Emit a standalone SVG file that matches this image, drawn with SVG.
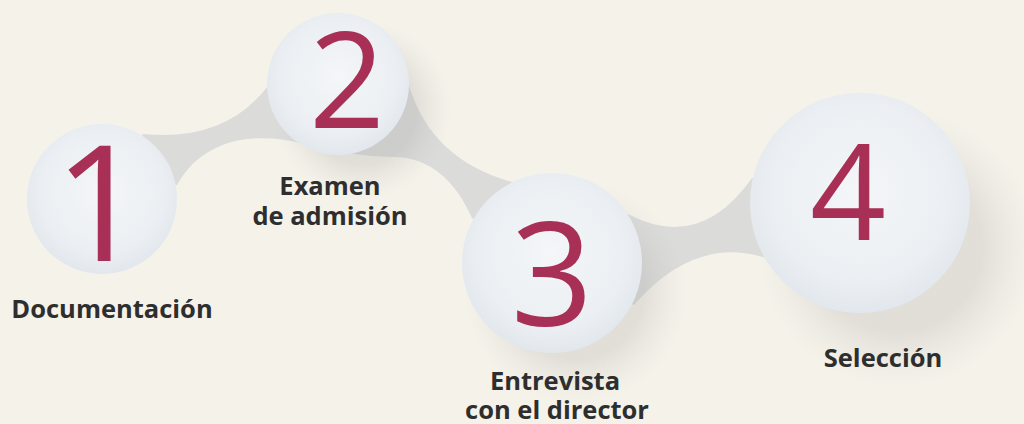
<svg xmlns="http://www.w3.org/2000/svg" width="1024" height="424" viewBox="0 0 1024 424">
<defs>
<style>
.num{font-family:"Open Sans","Noto Sans",sans-serif;font-weight:400;fill:#a82f55;text-anchor:middle}
.lbl{font-family:"Open Sans","Noto Sans",sans-serif;font-weight:700;font-size:25.5px;fill:#2e2e2e;text-anchor:middle}
.ball{fill:url(#ballGrad)}
</style>
<radialGradient id="ballGrad" cx="0.5" cy="0.45" r="0.55">
<stop offset="0" stop-color="#f4f6f8"/>
<stop offset="0.75" stop-color="#ebeff3"/>
<stop offset="1" stop-color="#e2e7ed"/>
</radialGradient>
<radialGradient id="shadowGrad" cx="0.5" cy="0.5" r="0.5">
<stop offset="0.6" stop-color="#9a9a96" stop-opacity="0.22"/>
<stop offset="0.85" stop-color="#b0b0aa" stop-opacity="0.08"/>
<stop offset="1" stop-color="#c0c0ba" stop-opacity="0"/>
</radialGradient>
</defs>
<rect width="1024" height="424" fill="#f5f2ea"/>
<g id="connectors">
<path fill="#dbdbda" d="M102,199 L143,134 Q225,142 268,86 L338,84 L409,86 Q432,160 512,182 L552,263 L628,214 Q700,252 752,178 L860,203 L766,258 Q695,235 634,305 L552,263 L472,218 C455,180 430,158 395,157 C360,156 330,152 300,143 C260,133 205,135 177,185 Z"/>
</g>
<g id="node1">
<circle cx="102" cy="199" r="75" class="ball"/>
<text class="num" x="100" y="261" font-size="161">1</text>
<text class="lbl" x="112" y="318">Documentación</text>
</g>
<g id="node2">
<ellipse cx="362" cy="110" rx="90" ry="90" fill="url(#shadowGrad)"/>
<circle cx="338" cy="84" r="71" class="ball"/>
<text class="num" x="347" y="128" font-size="133">2</text>
<text class="lbl" x="330" y="195">Examen</text>
<text class="lbl" x="330" y="225">de admisión</text>
</g>
<g id="node3">
<ellipse cx="576" cy="292" rx="112" ry="112" fill="url(#shadowGrad)"/>
<circle cx="552" cy="263" r="90" class="ball"/>
<text class="num" x="552" y="326" font-size="144">3</text>
<text class="lbl" x="555" y="390">Entrevista</text>
<text class="lbl" x="557" y="419">con el director</text>
</g>
<g id="node4">
<ellipse cx="898" cy="248" rx="140" ry="140" fill="url(#shadowGrad)"/>
<circle cx="860" cy="203" r="110" class="ball"/>
<text class="num" x="848" y="240" font-size="133">4</text>
<text class="lbl" x="883" y="367">Selección</text>
</g>
</svg>
